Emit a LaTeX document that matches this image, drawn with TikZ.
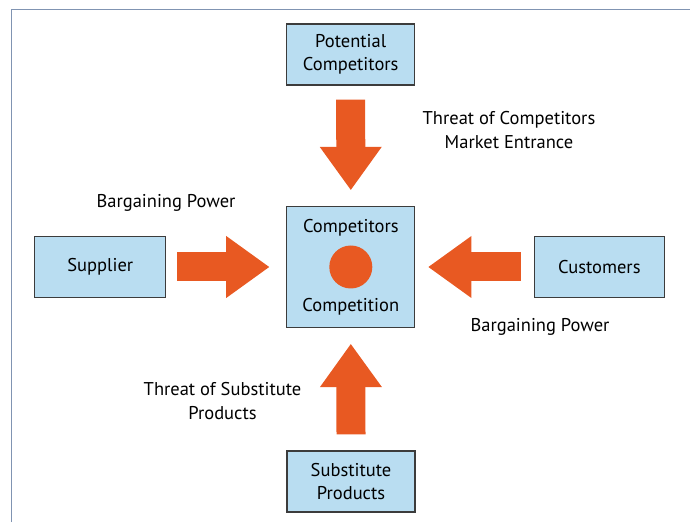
\documentclass[tikz,border=0pt]{standalone}
\usepackage{fontspec}
\setmainfont{PT Sans}
\usetikzlibrary{arrows.meta}

\definecolor{boxblue}{RGB}{185,221,241}
\definecolor{boxline}{RGB}{60,60,60}
\definecolor{forceorange}{RGB}{232,89,34}
\definecolor{framegrey}{RGB}{128,148,178}

\begin{document}
\begin{tikzpicture}[x=1pt,y=1pt,
        font=\fontsize{18.5}{23.5}\selectfont,
        force/.style={draw=boxline,fill=boxblue,line width=1.2pt,align=center,
            minimum width=128pt,minimum height=61pt,inner sep=0pt},
        push/.style={forceorange,line width=29pt,
            -{Triangle[length=43pt,width=62pt,line width=0pt]}},
        forcetext/.style={align=center,inner sep=0pt}]
    \useasboundingbox (0,0) rectangle (690,522);
    \draw[framegrey,line width=1pt] (11.5,0) -- (11.5,512.5) -- (690,512.5);

    % the five forces
    \node[force] (entrants) at (350.7,467.5) {Potential\\Competitors};
    \node[force,minimum height=121pt] (rivalry) at (350.8,255) {};
    \node[force] (substitutes) at (351,40.5) {Substitute\\Products};
    \node[force,minimum width=131pt] (suppliers) at (100.3,255) {Supplier};
    \node[force,minimum width=130pt] (buyers) at (599.3,255) {Customers};

    \node (rivalryTop) at ([yshift=-21.5pt]rivalry.north) {Competitors};
    \fill[forceorange] (rivalry.center) circle (21.5pt);
    \node (rivalryBottom) at ([yshift=21pt]rivalry.south) {Competition};

    % pressure on the market
    \draw[push] ([yshift=-14pt]entrants.south) -- ([yshift=16pt]rivalry.north);
    \draw[push] ([yshift=16pt]substitutes.north) -- ([yshift=-16pt]rivalry.south);
    \draw[push] ([xshift=11pt]suppliers.east) -- ([xshift=-17pt]rivalry.west);
    \draw[push] ([xshift=-13pt]buyers.west) -- ([xshift=13pt]rivalry.east);

    \node[forcetext] (entryThreat) at (509,392) {Threat of Competitors\\Market Entrance};
    \node[forcetext] (supplierPower) at (166,318.7) {Bargaining Power};
    \node[forcetext] (buyerPower) at (540,195.3) {Bargaining Power};
    \node[forcetext] (substituteThreat) at (222.5,121) {Threat of Substitute\\Products};
\end{tikzpicture}
\end{document}
